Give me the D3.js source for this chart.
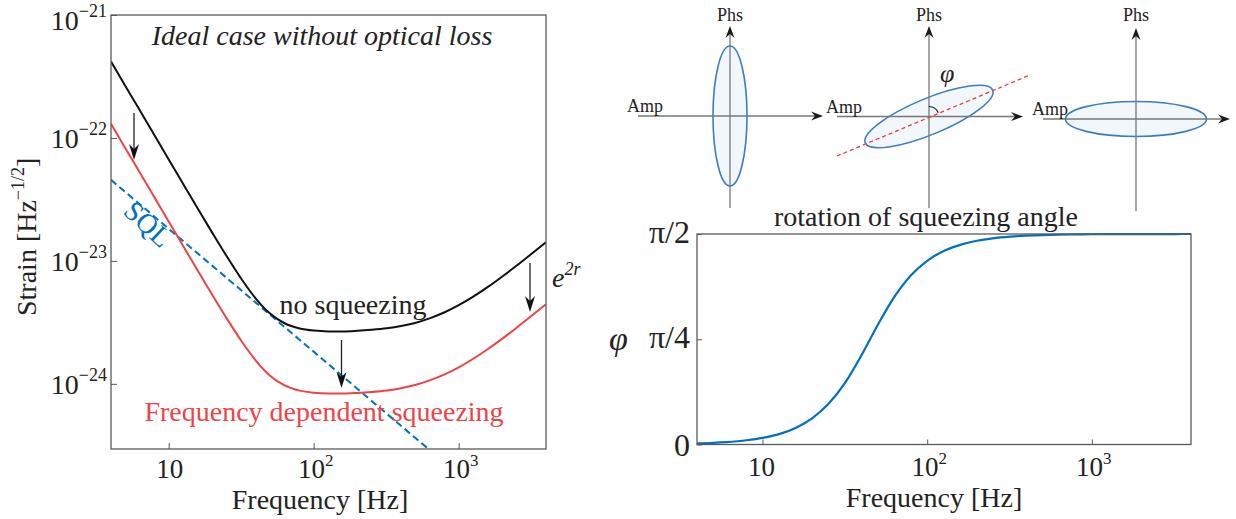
<!DOCTYPE html>
<html><head><meta charset="utf-8">
<script src="https://cdn.jsdelivr.net/npm/d3@7"></script>
<style>
body{margin:0;background:#fff}
svg{display:block}
text{font-family:"Liberation Serif","Times New Roman",serif;fill:#222}
</style></head>
<body><svg id="c" width="1236" height="519"></svg>
<script>
// ---------- data ----------
const freq = [4,5,6,8,10,13,16,20,25,32,40,50,63,80,100,126,160,200,250,320,400,500,630,800,1000,1260,1600,2000,2500,3200,4000];
const noSqueezing = [4.18e-22,2.67e-22,1.86e-22,1.045e-22,6.68e-23,3.96e-23,2.62e-23,1.69e-23,1.10e-23,7.03e-24,4.92e-24,3.73e-24,3.11e-24,2.82e-24,2.71e-24,2.67e-24,2.67e-24,2.70e-24,2.75e-24,2.83e-24,2.95e-24,3.13e-24,3.41e-24,3.82e-24,4.36e-24,5.12e-24,6.17e-24,7.47e-24,9.13e-24,1.15e-23,1.42e-23];
const freqDependentSqueezing = [1.306e-22,8.34e-23,5.81e-23,3.27e-23,2.09e-23,1.24e-23,8.19e-24,5.28e-24,3.44e-24,2.20e-24,1.54e-24,1.166e-24,9.72e-25,8.81e-25,8.47e-25,8.34e-25,8.34e-25,8.44e-25,8.59e-25,8.84e-25,9.22e-25,9.78e-25,1.066e-24,1.194e-24,1.363e-24,1.60e-24,1.93e-24,2.33e-24,2.85e-24,3.59e-24,4.44e-24];
const sqlFreq = [4,1000];
const sqlStrain = [4.56e-23,1.824e-25];
const rotationAngle = [0.0079,0.01235,0.01778,0.0316,0.0494,0.0833,0.1258,0.1950,0.2995,0.4675,0.6688,0.8899,1.0990,1.2645,1.3710,1.4439,1.4918,1.5202,1.5384,1.5510,1.5581,1.5627,1.5657,1.5676,1.5688,1.5695,1.5700,1.5703,1.5705,1.5706,1.5707];
const strainTicks = [1e-21,1e-22,1e-23,1e-24];
const strainTickExp = ["\u221221","\u221222","\u221223","\u221224"];
const freqTicks = [10,100,1000];
const freqTickExp = ["","2","3"];
const angleTicks = [0,Math.PI/4,Math.PI/2];
const angleTickLabels = ["0","\u03c0/4","\u03c0/2"];

const svg = d3.select("#c");
const defs = svg.append("defs");
const AX = "#5a5a5a";

function supLabel(g, x, y, base, exp, anchor, bs, ss, rise){
  const t = g.append("text").attr("x",x).attr("y",y).attr("text-anchor",anchor)
    .style("font-size",bs+"px");
  t.append("tspan").text(base);
  if(exp){
    t.append("tspan").attr("dy",-rise).style("font-size",ss+"px").text(exp);
  }
  return t;
}
function downArrow(g, x, y1, y2){
  g.append("line").attr("x1",x).attr("x2",x).attr("y1",y1).attr("y2",y2-8)
    .attr("stroke","#222").attr("stroke-width",1.3);
  g.append("path").attr("d",`M${x},${y2} L${x-5},${y2-16} L${x},${y2-11} L${x+5},${y2-16} Z`)
    .attr("fill","#111");
}

// ---------- left plot ----------
const L = {x0:111,x1:546,y0:15,y1:449};
const xL = d3.scaleLog().domain([4,4000]).range([L.x0,L.x1]);
const yL = d3.scaleLog().domain([Math.pow(10,-24.53),1e-21]).range([L.y1,L.y0]);
const gl = svg.append("g");
defs.append("clipPath").attr("id","clipL").append("rect")
  .attr("x",L.x0).attr("y",L.y0).attr("width",L.x1-L.x0).attr("height",L.y1-L.y0);

gl.append("g").attr("transform",`translate(0,${L.y1})`)
  .call(d3.axisBottom(xL).tickValues(freqTicks).tickSizeInner(-6).tickSizeOuter(0).tickFormat(""))
  .call(g=>{g.select(".domain").remove(); g.selectAll("line").attr("stroke",AX);});
gl.append("g").attr("transform",`translate(${L.x0},0)`)
  .call(d3.axisLeft(yL).tickValues(strainTicks).tickSizeInner(-6).tickSizeOuter(0).tickFormat(""))
  .call(g=>{g.select(".domain").remove(); g.selectAll("line").attr("stroke",AX);});

const lineL = (xs,ys)=>d3.line().curve(d3.curveMonotoneX).x((d,i)=>xL(xs[i])).y((d,i)=>yL(ys[i]))(ys);
const plotL = gl.append("g").attr("clip-path","url(#clipL)");
plotL.append("path").attr("d",lineL(sqlFreq,sqlStrain)).attr("fill","none")
  .attr("stroke","#0072BD").attr("stroke-width",2).attr("stroke-dasharray","7,4");
plotL.append("path").attr("d",lineL(freq,noSqueezing)).attr("fill","none")
  .attr("stroke","#111").attr("stroke-width",2);
plotL.append("path").attr("d",lineL(freq,freqDependentSqueezing)).attr("fill","none")
  .attr("stroke","#EE4448").attr("stroke-width",2);

gl.append("rect").attr("x",L.x0).attr("y",L.y0).attr("width",L.x1-L.x0).attr("height",L.y1-L.y0)
  .attr("fill","none").attr("stroke",AX).attr("stroke-width",1.3);

strainTicks.forEach((v,i)=>{
  supLabel(gl, 107, Math.max(yL(v)+10,30), "10", strainTickExp[i], "end", 28, 18, 13);
});
freqTicks.forEach((v,i)=>{
  supLabel(gl, xL(v)+(i?2:1), L.y1+29, "10", freqTickExp[i], "middle", 27, 17, 12);
});
gl.append("text").attr("x",320).attr("y",509).attr("text-anchor","middle")
  .style("font-size","28px").text("Frequency [Hz]");
const yl = gl.append("text").attr("transform","translate(36,316) rotate(-90)").style("font-size","28px");
yl.append("tspan").text("Strain [Hz");
yl.append("tspan").attr("dy",-12).style("font-size","18px").text("\u22121/2");
yl.append("tspan").attr("dy",12).text("]");

gl.append("text").attr("x",322).attr("y",45).attr("text-anchor","middle")
  .style("font-size","28px").style("font-style","italic").text("Ideal case without optical loss");
gl.append("text").attr("transform","translate(122,213) rotate(43)")
  .style("font-size","28px").style("fill","#0072BD").text("SQL");
gl.append("text").attr("x",353).attr("y",314).attr("text-anchor","middle")
  .style("font-size","28px").text("no squeezing");
gl.append("text").attr("x",324).attr("y",421).attr("text-anchor","middle")
  .style("font-size","28px").style("fill","#EE4448").text("Frequency dependent squeezing");
const e2r = gl.append("text").attr("x",552).attr("y",287).style("font-size","28px").style("font-style","italic");
e2r.append("tspan").text("e");
e2r.append("tspan").attr("dy",-12).style("font-size","18px").text("2r");
downArrow(gl,134,113,160);
downArrow(gl,341.5,340,388);
downArrow(gl,530,263,312);

// ---------- right plot ----------
const R = {x0:697,x1:1191,y0:234,y1:444.5};
const xR = d3.scaleLog().domain([4,4000]).range([R.x0,R.x1]);
const yR = d3.scaleLinear().domain([0,Math.PI/2]).range([R.y1,R.y0]);
const gr = svg.append("g");
gr.append("g").attr("transform",`translate(0,${R.y1})`)
  .call(d3.axisBottom(xR).tickValues(freqTicks).tickSizeInner(-5).tickSizeOuter(0).tickFormat(""))
  .call(g=>{g.select(".domain").remove(); g.selectAll("line").attr("stroke",AX);});
gr.append("g").attr("transform",`translate(${R.x0},0)`)
  .call(d3.axisLeft(yR).tickValues(angleTicks).tickSizeInner(-5).tickSizeOuter(0).tickFormat(""))
  .call(g=>{g.select(".domain").remove(); g.selectAll("line").attr("stroke",AX);});
gr.append("path")
  .attr("d",d3.line().curve(d3.curveMonotoneX).x((d,i)=>xR(freq[i])).y(d=>yR(d))(rotationAngle))
  .attr("fill","none").attr("stroke","#0072BD").attr("stroke-width",2.2);
gr.append("rect").attr("x",R.x0).attr("y",R.y0).attr("width",R.x1-R.x0).attr("height",R.y1-R.y0)
  .attr("fill","none").attr("stroke",AX).attr("stroke-width",1.3);
angleTicks.forEach((v,i)=>{
  gr.append("text").attr("x",690).attr("y",yR(v)+(i===0?11:9)).attr("text-anchor","end")
    .style("font-size","32px").text(angleTickLabels[i]);
});
freqTicks.forEach((v,i)=>{
  supLabel(gr, xR(v)+(i?2:-1), R.y1+31, "10", freqTickExp[i], "middle", 27, 17, 12);
});
gr.append("text").attr("x",934).attr("y",507).attr("text-anchor","middle")
  .style("font-size","28px").text("Frequency [Hz]");
gr.append("text").attr("x",926).attr("y",226).attr("text-anchor","middle")
  .style("font-size","28px").text("rotation of squeezing angle");
gr.append("text").attr("x",609).attr("y",350)
  .style("font-size","34px").style("font-style","italic").text("\u03c6");

// ---------- phase-space diagrams ----------
const gd = svg.append("g");
function arrowHead(x,y,dir){
  const p = dir==="r"
    ? `M${x},${y} L${x-12},${y-4.5} L${x-8},${y} L${x-12},${y+4.5} Z`
    : `M${x},${y} L${x-4.5},${y+12} L${x},${y+8} L${x+4.5},${y+12} Z`;
  gd.append("path").attr("d",p).attr("fill","#1a1a1a");
}
function diagram(cx,cy,hx0,hx1,vy0,vy1,ampX,ell){
  gd.append("ellipse").attr("cx",0).attr("cy",0).attr("rx",ell.rx).attr("ry",ell.ry)
    .attr("transform",`translate(${cx},${cy}) rotate(${ell.rot})`)
    .attr("fill","#f2f7fc").attr("stroke","#3c7cc6").attr("stroke-width",1.6);
  gd.append("line").attr("x1",hx0).attr("x2",hx1-6).attr("y1",cy).attr("y2",cy)
    .attr("stroke","#777").attr("stroke-width",1.3);
  gd.append("line").attr("x1",cx).attr("x2",cx).attr("y1",vy1).attr("y2",vy0+6)
    .attr("stroke","#777").attr("stroke-width",1.3);
  arrowHead(hx1,cy,"r");
  arrowHead(cx,vy0,"u");
  gd.append("text").attr("x",cx).attr("y",21).attr("text-anchor","middle")
    .style("font-size","18px").text("Phs");
  gd.append("text").attr("x",ampX).attr("y",cy-4).style("font-size","18px").text("Amp");
}
diagram(730,116,638,823,26,208,627,{rx:17,ry:70,rot:0});
diagram(929,116.5,837,1023,26,208,826,{rx:69,ry:18,rot:-22.5});
gd.append("line").attr("x1",837).attr("y1",156).attr("x2",1030).attr("y2",75)
  .attr("stroke","#ee3b3b").attr("stroke-width",1.3).attr("stroke-dasharray","4,3");
gd.append("path").attr("d","M929,106.5 A10,10 0 0 1 938.2,112.7").attr("fill","none")
  .attr("stroke","#222").attr("stroke-width",1.2);
gd.append("text").attr("x",940).attr("y",82).style("font-size","26px").style("font-style","italic").text("\u03c6");
diagram(1136,119,1043,1230,28,211,1032,{rx:70.5,ry:17.5,rot:0});
</script></body></html>
